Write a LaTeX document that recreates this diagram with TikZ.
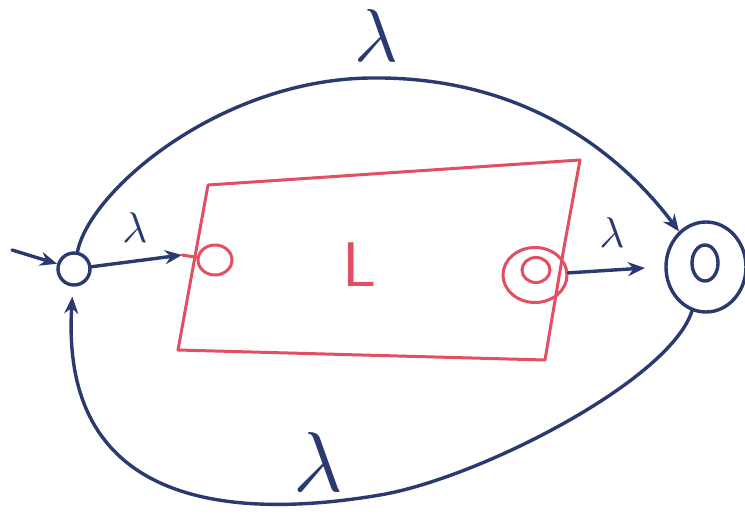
\documentclass[tikz,border=0pt]{standalone}
\usetikzlibrary{arrows.meta,shapes.geometric}
\definecolor{ink}{RGB}{42,58,112}
\definecolor{pen}{RGB}{226,78,98}
\begin{document}
\begin{tikzpicture}[x=1pt,y=-1pt,
  blueline/.style={draw=ink,line width=3.4pt,line cap=round,line join=round},
  redline/.style={draw=pen,line width=3pt,line cap=round,line join=round},
  tipped/.style={-{Stealth[length=17pt,width=14pt]}},
  bstate/.style={ellipse,draw=ink,line width=3.4pt,inner sep=0pt},
  rstate/.style={ellipse,draw=pen,line width=3pt,inner sep=0pt},
  lab/.style={text=ink,inner sep=0pt},
]
\useasboundingbox (0,0) rectangle (745,514);
\fill[white] (0,0) rectangle (745,514);

% red box (sub-automaton L)
\draw[redline] (208,185) -- (580,160) -- (563,253) -- (545,360) -- (178,350) -- cycle;
\node[text=pen,scale=6.3,font=\sffamily,inner sep=0pt] (L) at (360,265) {L};

% states
\node[bstate,minimum width=32pt,minimum height=32pt] (s) at (74,269) {};
\node[rstate,minimum width=34pt,minimum height=30pt] (rs) at (215,260) {};
\node[rstate,minimum width=64pt,minimum height=55pt] (rf) at (535,275) {};
\node[rstate,minimum width=28pt,minimum height=25pt] (rfi) at (536,270) {};
\node[bstate,minimum width=80pt,minimum height=90pt] (f) at (706,267) {};
\node[bstate,minimum width=26pt,minimum height=36pt] (fi) at (705,263) {};

% labels
\node[lab,scale=7.5] (l1) at (376,35) {$\lambda$};
\node[lab,scale=4.3] (l2) at (135,228) {$\lambda$};
\node[lab,scale=4.3] (l3) at (612,233) {$\lambda$};
\node[lab,scale=8.5] (l4) at (318,462) {$\lambda$};

% connectors
\coordinate (i0) at (12,250);
\draw[blueline,tipped] (i0) -- (s);
\coordinate (rin) at (182,255);
\draw[blueline,tipped] (s) -- (rin);
\draw[redline] (rin) -- (rs);
\coordinate (fin) at (645,268);
\draw[blueline,tipped] (rf) -- (fin);
\draw[blueline,tipped] (s) .. controls (90,190) and (220,80) .. (370,78)
  .. controls (510,76) and (610,140) .. (f);
\draw[blueline,tipped,shorten >=10pt] (f) .. controls (670,380) and (480,478) .. (380,495)
  .. controls (220,522) and (60,500) .. (s);
\end{tikzpicture}
\end{document}
